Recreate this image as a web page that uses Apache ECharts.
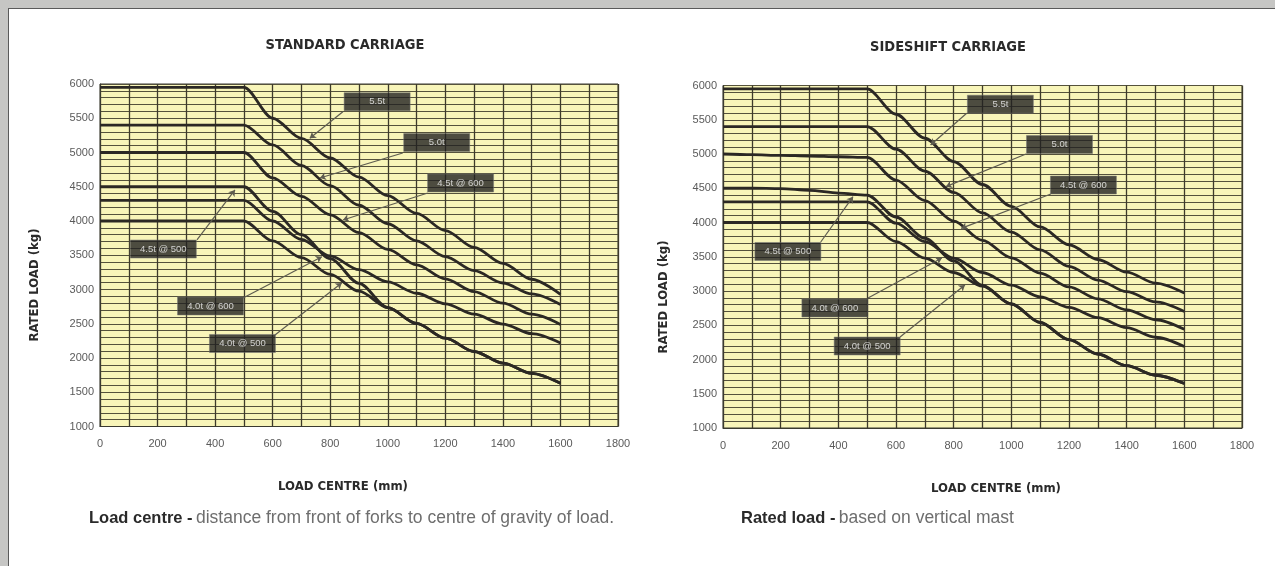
<!DOCTYPE html>
<html><head><meta charset="utf-8">
<script src="https://cdn.jsdelivr.net/npm/echarts/dist/echarts.min.js"></script>
<style>
html,body{margin:0;padding:0;background:#c6c6c4;width:1275px;height:566px;overflow:hidden}
#frame{position:absolute;left:8px;top:8px;width:1275px;height:566px;background:#fff;border:1px solid #5a5a5a}
#c{position:absolute;left:0;top:0;width:1275px;height:566px}
</style>
</head><body><div id="frame"></div><div id="c"></div><script>
// ---- data ----
const loadCentres = [0,100,200,300,400,500,600,700,800,900,1000,1100,1200,1300,1400,1500,1600];
const seriesNames = ['5.5t','5.0t','4.5t @ 600','4.5t @ 500','4.0t @ 600','4.0t @ 500'];
// Standard carriage rated load (kg)
const std55  = [5950,5950,5950,5950,5950,5950,5500,5205,4920,4640,4370,4110,3860,3615,3380,3150,2930];
const std50  = [5400,5400,5400,5400,5400,5400,5110,4810,4515,4230,3960,3710,3480,3275,3095,2935,2780];
const std45a = [5000,5000,5000,5000,5000,5000,4630,4360,4090,3830,3585,3360,3155,2970,2800,2640,2490];
const std45b = [4500,4500,4500,4500,4500,4500,4140,3800,3450,3090,2735,2505,2290,2095,1925,1775,1630];
const std40a = [4300,4300,4300,4300,4300,4300,4000,3730,3490,3290,3110,2945,2790,2640,2495,2355,2220];
const std40b = [4000,4000,4000,4000,4000,4000,3710,3465,3220,2975,2735,2505,2290,2095,1925,1775,1630];
// Sideshift carriage rated load (kg)
const side55  = [5950,5950,5950,5950,5950,5950,5580,5230,4890,4555,4235,3935,3675,3460,3275,3115,2970];
const side50  = [5400,5400,5400,5400,5400,5400,5070,4750,4440,4140,3860,3600,3360,3160,2990,2840,2700];
const side45a = [5000,4990,4980,4970,4960,4950,4620,4320,4020,3740,3485,3260,3060,2885,2725,2580,2440];
const side45b = [4500,4500,4495,4470,4430,4400,4080,3770,3440,3080,2810,2540,2290,2080,1910,1770,1650];
const side40a = [4300,4300,4300,4300,4300,4300,3990,3720,3480,3270,3085,2915,2760,2610,2465,2325,2190];
const side40b = [4000,4000,4000,4000,4000,4000,3720,3480,3270,3070,2810,2540,2290,2080,1910,1770,1650];
// axis ticks
const xTicks = [0,200,400,600,800,1000,1200,1400,1600,1800];
const yTicks = [1000,1500,2000,2500,3000,3500,4000,4500,5000,5500,6000];
// callouts: label, label anchor, arrow start, arrow tip (data units)
const calloutsStd = [
  ['5.5t',[963,5742],[844,5596],[729,5207]],
  ['5.0t',[1170,5146],[1052,4993],[764,4628]],
  ['4.5t @ 600',[1253,4555],[1139,4409],[844,4015]],
  ['4.5t @ 500',[220,3591],[337,3723],[469,4453]],
  ['4.0t @ 600',[384,2759],[497,2876],[771,3479]],
  ['4.0t @ 500',[495,2212],[608,2336],[840,3095]]
];
const calloutsSide = [
  ['5.5t',[962,5727],[845,5594],[720,5131]],
  ['5.0t',[1167,5139],[1051,5000],[773,4523]],
  ['4.5t @ 600',[1250,4547],[1137,4416],[826,3915]],
  ['4.5t @ 500',[225,3577],[339,3715],[451,4377]],
  ['4.0t @ 600',[388,2752],[503,2898],[759,3482]],
  ['4.0t @ 500',[500,2197],[614,2328],[839,3088]]
];

const stdSets = [std55,std50,std45a,std45b,std40a,std40b];
const sideSets = [side55,side50,side45a,side45b,side40a,side40b];

const chart = echarts.init(document.getElementById('c'), null, {renderer:'canvas'});
const tickFont = {color:'#5a5a5a', fontSize:11, fontFamily:'Liberation Sans, Arial, sans-serif'};
const narrow = '"Liberation Sans Narrow","DejaVu Sans Condensed","Liberation Sans",sans-serif';

function xAxis(i){
  return {type:'value', gridIndex:i, min:0, max:1800, interval:100,
    axisLine:{show:true, lineStyle:{color:'#3a3a30'}}, axisTick:{show:false},
    axisLabel:Object.assign({margin:12, formatter:v=> xTicks.includes(v)? String(v):''}, tickFont),
    splitLine:{show:true, lineStyle:{color:'#3d3a2a', width:1.3}}};
}
function yAxis(i){
  return {type:'value', gridIndex:i, min:1000, max:6000, interval:100,
    axisLine:{show:true, lineStyle:{color:'#3a3a30'}}, axisTick:{show:false},
    axisLabel:Object.assign({margin:6, formatter:v=> yTicks.includes(v)? String(v):''}, tickFont),
    splitLine:{show:true, lineStyle:{color:'#55523c', width:1}}};
}
const series = [];
function addCurves(sets, gi){
  sets.forEach((vals, k)=>{
    series.push({type:'line', name:seriesNames[k]+'#'+gi, xAxisIndex:gi, yAxisIndex:gi,
      data: loadCentres.map((x,j)=>[x, vals[j]]), showSymbol:false, symbol:'none',
      smooth:0.3, smoothMonotone:'x', lineStyle:{color:'#2b2824', width:2.8}, z:5, silent:true});
  });
}
function addCallouts(list, gi){
  series.push({type:'lines', coordinateSystem:'cartesian2d', xAxisIndex:gi, yAxisIndex:gi,
    symbol:['none','arrow'], symbolSize:6, z:6, silent:true,
    lineStyle:{color:'#5e5c50', width:1.2, opacity:1},
    data: list.map(c=>({coords:[c[2], c[3]]}))});
  series.push({type:'scatter', xAxisIndex:gi, yAxisIndex:gi, symbol:'rect', symbolSize:[66,18], z:7, silent:true,
    itemStyle:{color:'#222222', borderColor:'#777', borderWidth:0.5},
    label:{show:true, position:'inside', color:'#f2f2f2', fontSize:9.5, fontFamily:'Liberation Sans, Arial, sans-serif', formatter:p=>p.name},
    data: list.map(c=>({name:c[0], value:c[1]}))});
}
addCurves(stdSets,0); addCurves(sideSets,1);
addCallouts(calloutsStd,0); addCallouts(calloutsSide,1);

const footBold = 'bold 16.5px "Liberation Sans",Arial,sans-serif';
const footNorm = '17.5px "Liberation Sans",Arial,sans-serif';
const option = {
  animation:false,
  grid:[
    {left:100, top:84, width:518, height:342.5, show:true, backgroundColor:'#f8f5b9', borderColor:'#3a3a30', borderWidth:1},
    {left:723, top:85.5, width:519, height:342.5, show:true, backgroundColor:'#f8f5b9', borderColor:'#3a3a30', borderWidth:1}
  ],
  xAxis:[xAxis(0), xAxis(1)],
  yAxis:[yAxis(0), yAxis(1)],
  series: series,
  graphic:[
    {type:'text', x:345, y:45, style:{text:'STANDARD CARRIAGE', font:'bold 14.5px '+narrow, fill:'#2a2a2a', align:'center', verticalAlign:'middle'}},
    {type:'text', x:948, y:47, style:{text:'SIDESHIFT CARRIAGE', font:'bold 14.5px '+narrow, fill:'#2a2a2a', align:'center', verticalAlign:'middle'}},
    {type:'text', x:35, y:285, rotation:Math.PI/2, style:{text:'RATED LOAD (kg)', font:'bold 13px '+narrow, fill:'#2a2a2a', align:'center', verticalAlign:'middle'}},
    {type:'text', x:664, y:297, rotation:Math.PI/2, style:{text:'RATED LOAD (kg)', font:'bold 13px '+narrow, fill:'#2a2a2a', align:'center', verticalAlign:'middle'}},
    {type:'text', x:343, y:487, style:{text:'LOAD CENTRE (mm)', font:'bold 13px '+narrow, fill:'#2a2a2a', align:'center', verticalAlign:'middle'}},
    {type:'text', x:996, y:489, style:{text:'LOAD CENTRE (mm)', font:'bold 13px '+narrow, fill:'#2a2a2a', align:'center', verticalAlign:'middle'}},
    {type:'text', x:89, y:518, style:{text:'{b|Load centre -} {n|distance from front of forks to centre of gravity of load.}', verticalAlign:'middle',
      rich:{b:{font:footBold, fill:'#2a2a2a'}, n:{font:footNorm, fill:'#6e6e6e'}}}},
    {type:'text', x:741, y:518, style:{text:'{b|Rated load -} {n|based on vertical mast}', verticalAlign:'middle',
      rich:{b:{font:footBold, fill:'#2a2a2a'}, n:{font:footNorm, fill:'#6e6e6e'}}}}
  ]
};
chart.setOption(option);
</script></body></html>
